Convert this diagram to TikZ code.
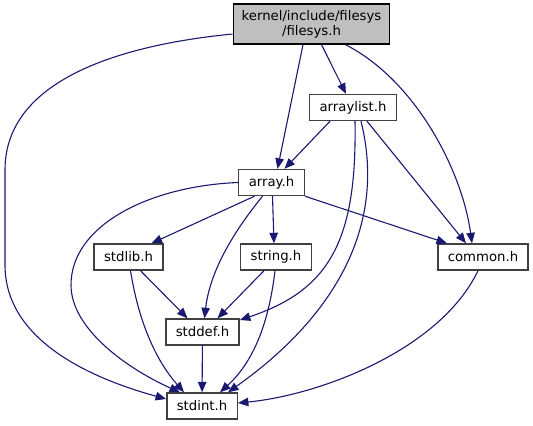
\documentclass[tikz,border=0pt]{standalone}
\usepackage{fontspec}
\usepackage{tikz}
\usetikzlibrary{positioning,calc}
\usetikzlibrary{arrows.meta}
\newfontfamily\doxfont{DejaVu Sans}
\definecolor{EdgeBlue}{RGB}{25,25,112}
\definecolor{BoxGray}{RGB}{191,191,191}
\definecolor{BorderGray}{RGB}{64,64,64}
\tikzset{
  hfile/.style={draw=BorderGray,fill=white,line width=1.4bp,minimum height=26bp,
    inner xsep=10bp,inner ysep=2bp,font=\doxfont\fontsize{13.3}{15}\selectfont},
  topfile/.style={hfile,draw=black,fill=BoxGray,minimum height=40bp,inner xsep=8.5bp,align=center},
  dep/.style={draw=EdgeBlue,line width=1.1bp,-{Triangle[length=10.5bp,width=8.5bp]}},
}

\begin{document}
\begin{tikzpicture}[x=1bp,y=-1bp]
\useasboundingbox (0,0) rectangle (533,425);
\node[topfile] (fsys) at (311.5,24) {kernel/include/filesys\\/filesys.h};
\node[hfile] (alist) at (353,107.5) {arraylist.h};
\node[hfile] (arr) at (271.5,182.5) {array.h};
\node[hfile] (stdlib) at (128.5,257) {stdlib.h};
\node[hfile] (strh) at (276,257) {string.h};
\node[hfile] (common) at (483,257) {common.h};
\node[hfile] (stddef) at (202.5,332) {stddef.h};
\node[hfile] (stdint) at (202,406) {stdint.h};
\draw[dep] ([yshift=-10bp]fsys.west) .. controls (120,45) and (5,80) .. (5,170)
  -- (5,265) .. controls (5,340) and (90,378) .. ([yshift=7bp]stdint.west);
\draw[dep] ([xshift=-8.5bp]fsys.south) -- ([xshift=6bp]arr.north);
\draw[dep] ([xshift=10bp]fsys.south) -- ([xshift=-7bp]alist.north);
\draw[dep] ([xshift=34bp]fsys.south) .. controls (415,80) and (462,170) .. ([xshift=-11bp]common.north);
\draw[dep] ([xshift=-23bp]alist.south) -- ([xshift=13bp]arr.north);
\draw[dep] ([xshift=2bp]alist.south) .. controls (357,240) and (330,290) .. ([yshift=12bp]stddef.east);
\draw[dep] ([xshift=8bp]alist.south) .. controls (388,230) and (330,320) .. ([xshift=26bp]stdint.north);
\draw[dep] ([xshift=14bp]alist.south) -- ([xshift=-17bp]common.north);
\draw[dep] (arr.west) .. controls (150,186) and (71,225) .. (71,285)
  .. controls (71,330) and (130,370) .. ([xshift=-22bp]stdint.north);
\draw[dep] ([xshift=-17bp]arr.south) -- ([xshift=23bp]stdlib.north);
\draw[dep] ([xshift=-9bp]arr.south) .. controls (235,230) and (210,270) .. ([xshift=2bp]stddef.north);
\draw[dep] ([xshift=1bp]arr.south) -- ([xshift=-2bp]strh.north);
\draw[dep] (arr.south east) -- ([xshift=-36bp]common.north);
\draw[dep] ([xshift=12bp]stdlib.south) -- ([xshift=-15bp]stddef.north);
\draw[dep] ([xshift=2bp]stdlib.south) .. controls (140,330) and (160,365) .. ([xshift=-18bp]stdint.north);
\draw[dep] ([xshift=-12bp]strh.south) -- ([xshift=15bp]stddef.north);
\draw[dep] ([xshift=-1bp]strh.south) .. controls (268,330) and (250,365) .. ([xshift=18bp]stdint.north);
\draw[dep] (stddef) -- (stdint);
\draw[dep] ([xshift=-5bp]common.south) .. controls (440,350) and (320,395) .. ([yshift=3bp]stdint.east);
\end{tikzpicture}
\end{document}
